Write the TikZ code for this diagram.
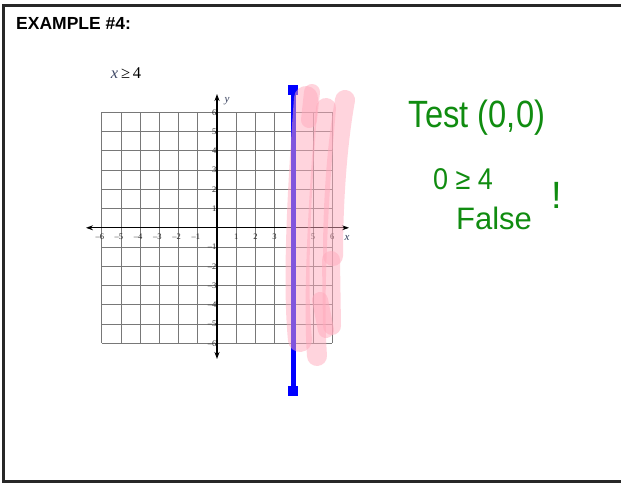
\documentclass[tikz,border=0pt]{standalone}
\usepackage{fontspec}
\setmainfont{Liberation Serif}
\newfontfamily\arialfont{Liberation Sans}
\usetikzlibrary{arrows.meta}
\definecolor{hand}{RGB}{16,140,16}
\definecolor{pinkshade}{RGB}{255,170,188}
\definecolor{gridgray}{RGB}{120,120,120}
\tikzset{
  frame/.style={line width=2.6pt, draw={rgb,255:red,40;green,40;blue,40}},
  gridline/.style={gridgray, line width=0.9pt},
  axisline/.style={black, line width=1.1pt, -{Stealth[length=7pt,width=5pt]}},
  ticklab/.style={font=\fontsize{8.5}{9}\selectfont, text={rgb,255:red,40;green,40;blue,40}, inner sep=0pt},
  pinkstroke/.style={draw=pinkshade, line width=#1, line cap=round, opacity=0.5},
  pinkstroke/.default=17pt,
  handtext/.style={text=hand, font=\arialfont, inner sep=0pt},
}
\begin{document}
\begin{tikzpicture}[x=1pt,y=-1pt]
\useasboundingbox (0,0) rectangle (621,483);
\fill[white] (0,0) rectangle (621,483);
% frame
\draw[frame] (622,5.5) -- (3.5,5.5) -- (3.5,481.2) -- (622,481.2);
% title
\node[anchor=west, inner sep=0pt, font=\arialfont\bfseries\fontsize{17.5}{20}\selectfont] (title) at (16,23) {EXAMPLE \#4:};
\node[inner sep=0pt, font=\fontsize{16.5}{18}\selectfont] (ineq) at (126,73) {\textcolor[RGB]{60,70,100}{\itshape x}\,≥\,4};
% grid
\foreach \i in {-6,...,6} {
  \draw[gridline] ({217+\i*19.2},112.3) -- ({217+\i*19.2},343.3);
  \draw[gridline] (101.8,{227.8+\i*19.25}) -- (332.2,{227.8+\i*19.25});
}
% axes
\draw[axisline] (217,227.8) -- (349,227.8);
\draw[axisline] (217,227.8) -- (86,227.8);
\draw[axisline] (217,227.8) -- (217,94);
\draw[axisline] (217,227.8) -- (217,359);
\node[inner sep=0pt, font=\itshape\fontsize{11}{12}\selectfont, text={rgb,255:red,50;green,60;blue,90}] (ylab) at (227,101) {y};
\node[inner sep=0pt, font=\itshape\fontsize{11}{12}\selectfont, text={rgb,255:red,50;green,60;blue,90}] (xlab) at (347,238) {x};
% tick labels
\foreach \i in {1,...,6} {
  \node[ticklab] at ({217+\i*19.2},236.3) {\i};
  \node[ticklab, anchor=east] at ({217-\i*19.2+2.4},236.3) {\textendash\i};
  \node[ticklab, anchor=east] at (216.5,{227.8-\i*19.25}) {\i};
  \node[ticklab, anchor=east] at (216.5,{227.8+\i*19.25}) {\textendash\i};
}
% blue boundary line
\draw[blue, line width=5.5pt] (293.3,88) -- (293.3,392);
\fill[blue] (288.3,85) rectangle (298.3,95);
\fill[blue] (288.3,386) rectangle (298.3,396);
% pink shading
\draw[pinkstroke=24pt] (306,98) .. controls (300,180) and (294,280) .. (300,340);
\draw[pinkstroke=20pt] (326,108) .. controls (318,200) and (313,300) .. (317,356);
\draw[pinkstroke=20pt] (345,100) .. controls (336,150) and (333,210) .. (333,256);
\draw[pinkstroke=18pt] (331,260) -- (332,326);
\draw[pinkstroke=16pt] (320,300) -- (326,330);
\draw[pinkstroke=16pt] (312,92) -- (309,120);
% handwritten work
\node[handtext, xscale=0.86, font=\arialfont\fontsize{38}{40}\selectfont] (test) at (477,118) {Test (0,0)};
\node[handtext, xscale=0.9, font=\arialfont\fontsize{30}{32}\selectfont] (cmp) at (463,179) {0 ≥ 4};
\node[handtext, font=\arialfont\fontsize{31}{33}\selectfont] (false) at (494,218) {False};
\node[handtext, font=\arialfont\fontsize{38}{40}\selectfont] (bang) at (557,195) {!};
\end{tikzpicture}
\end{document}
